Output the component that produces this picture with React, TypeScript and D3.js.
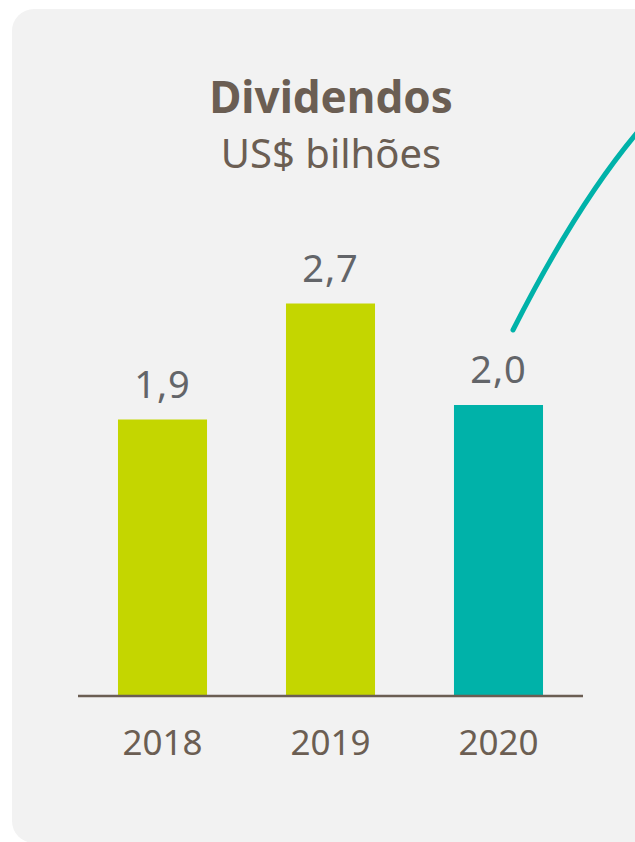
import React, { useEffect, useRef } from "react";
import * as d3 from "d3";

const years = ["2018", "2019", "2020"];
const dividends = [1.9, 2.7, 2.0];
const barColors = ["#c4d600", "#c4d600", "#00b2a9"];
const valueLabels = ["1,9", "2,7", "2,0"];

const title = "Dividendos";
const subtitle = "US$ bilhões";

const App: React.FC = () => {
  const svgRef = useRef<SVGSVGElement | null>(null);

  useEffect(() => {
    document.body.style.margin = "0";
    if (!svgRef.current) return;
    const svg = d3.select(svgRef.current);
    svg.selectAll("*").remove();

    const width = 635;
    const height = 842;
    const font = "'Noto Sans', 'Open Sans', sans-serif";

    svg.attr("width", width).attr("height", height);

    // grey card behind the chart (runs off the right edge)
    svg.append("rect")
      .attr("x", 12)
      .attr("y", 9)
      .attr("width", 650)
      .attr("height", 834)
      .attr("rx", 22)
      .attr("fill", "#f2f2f2");

    svg.append("text")
      .attr("x", 331)
      .attr("y", 113)
      .attr("text-anchor", "middle")
      .attr("font-family", font)
      .attr("font-weight", 700)
      .attr("font-size", 44)
      .attr("fill", "#6b5e53")
      .text(title);

    svg.append("text")
      .attr("x", 331)
      .attr("y", 168)
      .attr("text-anchor", "middle")
      .attr("font-family", font)
      .attr("font-size", 40)
      .attr("fill", "#6b5e53")
      .text(subtitle);

    const baseline = 695;
    const x = d3.scaleBand<string>()
      .domain(years)
      .range([78, 583])
      .paddingInner(0.47)
      .paddingOuter(0.238);

    const y = d3.scaleLinear()
      .domain([0, 3])
      .range([baseline, baseline - 435]);

    const data = years.map((year, i) => ({
      year,
      value: dividends[i],
      color: barColors[i],
      label: valueLabels[i]
    }));

    svg.append("g")
      .selectAll("rect")
      .data(data)
      .enter()
      .append("rect")
      .attr("x", d => x(d.year)!)
      .attr("y", d => y(d.value))
      .attr("width", x.bandwidth())
      .attr("height", d => baseline - y(d.value))
      .attr("fill", d => d.color);

    svg.append("g")
      .selectAll("text")
      .data(data)
      .enter()
      .append("text")
      .attr("x", d => x(d.year)! + x.bandwidth() / 2)
      .attr("y", d => y(d.value) - 22)
      .attr("text-anchor", "middle")
      .attr("font-family", font)
      .attr("font-size", 38)
      .attr("letter-spacing", 1)
      .attr("fill", "#636569")
      .text(d => d.label);

    // axis: baseline only, with year labels
    const axis = svg.append("g")
      .attr("transform", `translate(0,${baseline + 1})`)
      .call(d3.axisBottom(x).tickSize(0).tickPadding(0));
    axis.select(".domain")
      .attr("d", "M78,0H583")
      .attr("stroke", "#6b5e53")
      .attr("stroke-width", 2.5);
    axis.selectAll("text")
      .attr("dy", null)
      .attr("y", 59)
      .attr("font-family", font)
      .attr("font-size", 35)
      .attr("fill", "#6b5e53");

    // teal connector line leaving the 2020 bar
    const p = d3.path();
    p.moveTo(513, 330);
    p.quadraticCurveTo(579, 200, 642, 127);
    svg.append("path")
      .attr("d", p.toString())
      .attr("fill", "none")
      .attr("stroke", "#00b2a9")
      .attr("stroke-width", 5)
      .attr("stroke-linecap", "round");
  }, []);

  return <svg ref={svgRef} style={{ display: "block", background: "#ffffff" }} />;
};

export default App;
